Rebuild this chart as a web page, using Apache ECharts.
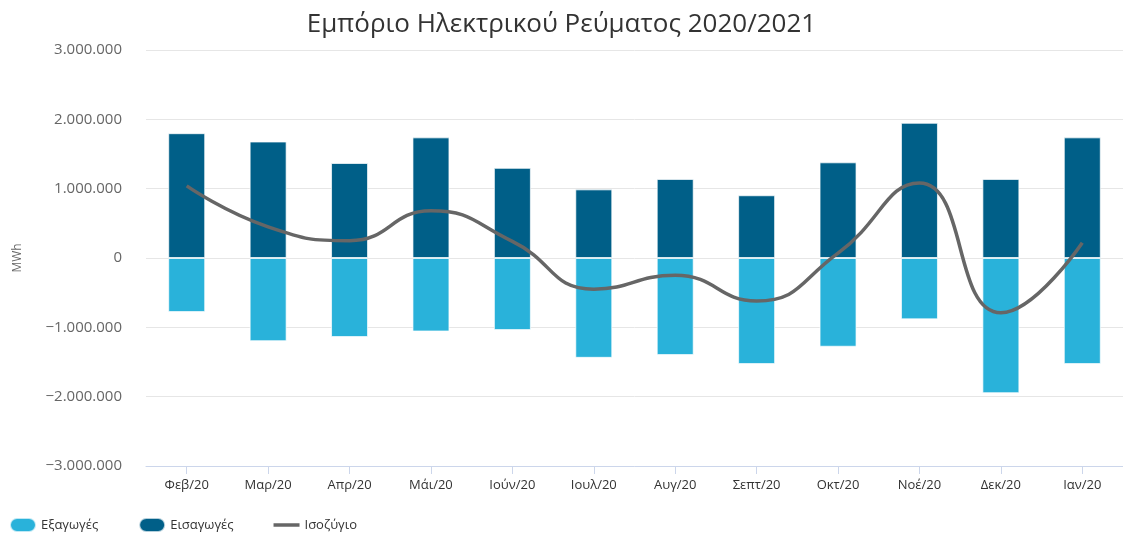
<!DOCTYPE html>
<html>
<head>
<meta charset="utf-8">
<script src="https://cdn.jsdelivr.net/npm/echarts@6/dist/echarts.min.js"></script>
<style>html,body{margin:0;padding:0;background:#fff}#c{width:1123px;height:540px}</style>
</head>
<body>
<div id="c"></div>
<script>
const categories = ['Φεβ/20','Μαρ/20','Απρ/20','Μάι/20','Ιούν/20','Ιουλ/20','Αυγ/20','Σεπτ/20','Οκτ/20','Νοέ/20','Δεκ/20','Ιαν/20'];
const imports = [1800000,1680000,1370000,1740000,1300000,990000,1140000,905000,1380000,1950000,1140000,1740000];
const exports = [-780000,-1200000,-1140000,-1060000,-1040000,-1440000,-1400000,-1530000,-1280000,-885000,-1950000,-1530000];
const balance = [1040000,450000,250000,680000,240000,-450000,-250000,-620000,70000,1080000,-790000,220000];

function fmt(v){
  const neg = v < 0;
  const s = Math.abs(v).toString().replace(/\B(?=(\d{3})+(?!\d))/g, '.');
  return (neg ? '\u2212' : '') + s;
}

const chart = echarts.init(document.getElementById('c'));
const FONT = '"Open Sans", "Noto Sans", sans-serif';
chart.setOption({
  animation: false,
  textStyle: { fontFamily: FONT },
  title: {
    text: 'Εμπόριο Ηλεκτρικού Ρεύματος 2020/2021',
    left: 'center', top: 7,
    textStyle: { fontFamily: FONT, fontSize: 26, fontWeight: 'normal', color: '#333' }
  },
  legend: {
    left: 4, bottom: 2,
    itemWidth: 26, itemHeight: 14, itemGap: 40,
    textStyle: { fontFamily: FONT, fontSize: 13, color: '#333' },
    data: [
      { name: 'Εξαγωγές', icon: 'path://M7,0 H19 A7,7 0 0 1 19,14 H7 A7,7 0 0 1 7,0 Z' },
      { name: 'Εισαγωγές', icon: 'path://M7,0 H19 A7,7 0 0 1 19,14 H7 A7,7 0 0 1 7,0 Z' },
      { name: 'Ισοζύγιο', icon: 'path://M0,0 H26 V3.5 H0 Z' }
    ]
  },
  grid: { left: 146, right: 0, top: 50, bottom: 74 },
  xAxis: {
    type: 'category',
    data: categories,
    boundaryGap: true,
    axisLine: { onZero: false, lineStyle: { color: '#ccd6eb' } },
    axisTick: { show: true, alignWithLabel: true, length: 8, lineStyle: { color: '#ccd6eb' } },
    axisLabel: { color: '#333', fontSize: 13, margin: 13 }
  },
  yAxis: {
    type: 'value',
    min: -3000000, max: 3000000, interval: 1000000,
    name: 'MWh', nameLocation: 'middle', nameGap: 122, nameRotate: 90,
    nameTextStyle: { color: '#666', fontSize: 12 },
    axisLabel: { color: '#666', fontSize: 15, margin: 24, formatter: fmt },
    splitLine: { lineStyle: { color: '#e6e6e6' } },
    axisLine: { show: false }, axisTick: { show: false }
  },
  series: [
    {
      name: 'Εξαγωγές', type: 'bar', stack: 'trade', data: exports, barWidth: 37,
      itemStyle: { color: '#29B2DA', borderColor: 'rgba(255,255,255,0.7)', borderWidth: 1 }
    },
    {
      name: 'Εισαγωγές', type: 'bar', stack: 'trade', data: imports, barWidth: 37,
      itemStyle: { color: '#005F88', borderColor: 'rgba(255,255,255,0.7)', borderWidth: 1 }
    },
    {
      name: 'Ισοζύγιο', type: 'line', data: balance, smooth: true, symbol: 'none',
      z: 5,
      lineStyle: { color: '#666666', width: 3.5 },
      itemStyle: { color: '#666666' }
    }
  ]
});
</script>
</body>
</html>
